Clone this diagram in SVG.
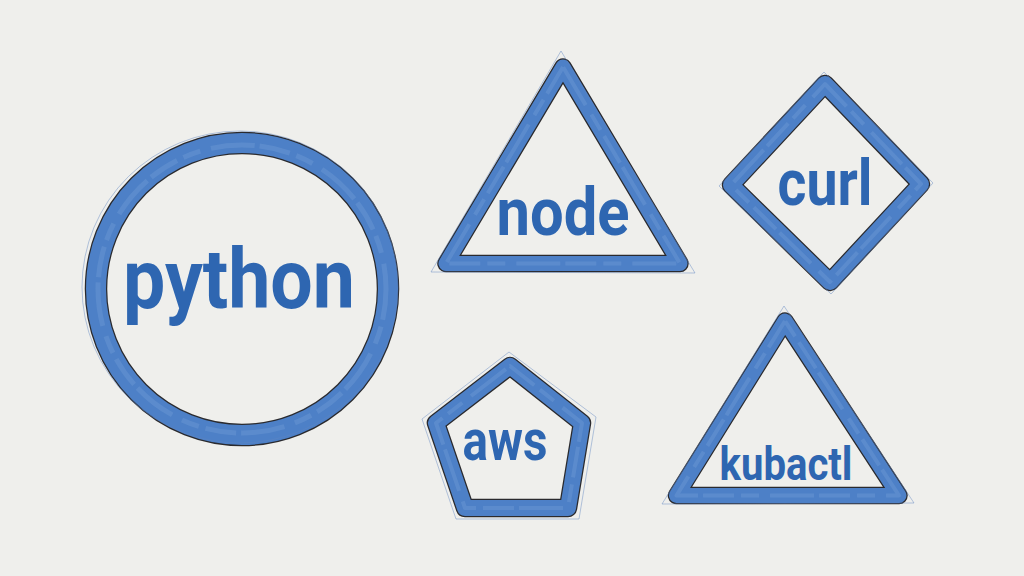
<svg xmlns="http://www.w3.org/2000/svg" width="1024" height="576" viewBox="0 0 1024 576">
<style>
.bg{fill:#efefec}
.ink{fill:none;stroke:#2a2a2e;stroke-linejoin:round}
.band{fill:none;stroke:#4d80c7;stroke-linejoin:round}
.hi{fill:none;stroke:#7ea6dc;stroke-linejoin:round;stroke-opacity:.3;stroke-dasharray:31 7 18 11 44 5}
.sk{fill:none;stroke:#5f86c2;stroke-opacity:.45;stroke-width:1;stroke-linejoin:round}
.lbl{font-family:Roboto,"Liberation Sans",sans-serif;font-weight:700;fill:#2e66b1;text-anchor:middle}
</style>
<rect class="bg" x="0" y="0" width="1024" height="576"/>
<g id="connectors"/>
<g id="python">
<circle class="ink" cx="242" cy="289" r="146" stroke-width="22.5"/>
<circle class="band" cx="242" cy="289" r="146" stroke-width="20"/>
<circle class="hi" cx="242" cy="289" r="144" stroke-width="5"/>
<ellipse class="sk" cx="240" cy="287" rx="158" ry="156"/>
<text class="lbl" x="239" y="308" font-size="84" textLength="232" lengthAdjust="spacingAndGlyphs">python</text>
</g>
<g id="node">
<polygon class="ink" points="563,67 446,263.5 680,263.5" stroke-width="17.5"/>
<polygon class="band" points="563,67 446,263.5 680,263.5" stroke-width="15"/>
<polygon class="hi" points="563,67 446,263.5 680,263.5" stroke-width="4"/>
<polygon class="sk" points="561,51 431,272 695,273"/>
<text class="lbl" x="563" y="235" font-size="66" textLength="133" lengthAdjust="spacingAndGlyphs">node</text>
</g>
<g id="curl">
<polygon class="ink" points="825,84 921,184 830,282 731,185" stroke-width="18.5"/>
<polygon class="band" points="825,84 921,184 830,282 731,185" stroke-width="16"/>
<polygon class="hi" points="825,84 921,184 830,282 731,185" stroke-width="4"/>
<polygon class="sk" points="824,72 933,183 831,294 719,186"/>
<text class="lbl" x="825" y="205" font-size="64" textLength="95" lengthAdjust="spacingAndGlyphs">curl</text>
</g>
<g id="aws">
<polygon class="ink" points="510,366 582,423 568,508 465,508 436,423" stroke-width="18.5"/>
<polygon class="band" points="510,366 582,423 568,508 465,508 436,423" stroke-width="16"/>
<polygon class="hi" points="510,366 582,423 568,508 465,508 436,423" stroke-width="4"/>
<polygon class="sk" points="509,352 596,417 579,519 456,519 422,419"/>
<text class="lbl" x="505" y="460" font-size="58" textLength="85" lengthAdjust="spacingAndGlyphs">aws</text>
</g>
<g id="kubactl">
<polygon class="ink" points="785,321 676.5,495.5 899,495.5" stroke-width="17.5"/>
<polygon class="band" points="785,321 676.5,495.5 899,495.5" stroke-width="15"/>
<polygon class="hi" points="785,321 676.5,495.5 899,495.5" stroke-width="4"/>
<polygon class="sk" points="784,306 662,504 914,503"/>
<text class="lbl" x="786" y="480" font-size="46" textLength="133" lengthAdjust="spacingAndGlyphs">kubactl</text>
</g>
</svg>
